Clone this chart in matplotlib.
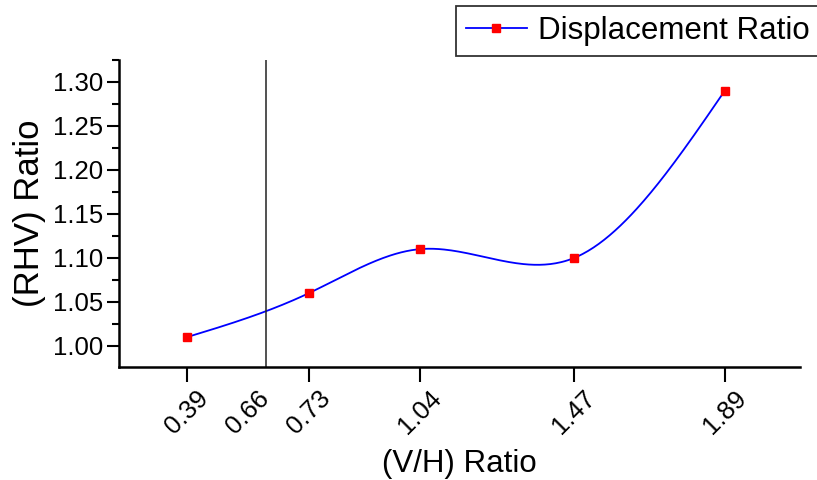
import numpy as np
import matplotlib
matplotlib.use('Agg')
import matplotlib.pyplot as plt
from matplotlib.ticker import MultipleLocator, FormatStrFormatter
from matplotlib.lines import Line2D

# data
vh_ratio = [0.39, 0.73, 1.04, 1.47, 1.89]
rhv_ratio = [1.01, 1.06, 1.11, 1.10, 1.29]
tick_pos = [0.39, 0.56, 0.73, 1.04, 1.47, 1.89]
tick_labels = ['0.39', '0.66', '0.73', '1.04', '1.47', '1.89']
vline_x = 0.61


def natural_spline(x, y, xs):
    x = np.asarray(x, float)
    y = np.asarray(y, float)
    n = len(x)
    h = np.diff(x)
    A = np.zeros((n, n))
    b = np.zeros(n)
    A[0, 0] = A[-1, -1] = 1
    for i in range(1, n - 1):
        A[i, i - 1] = h[i - 1]
        A[i, i] = 2 * (h[i - 1] + h[i])
        A[i, i + 1] = h[i]
        b[i] = 3 * ((y[i + 1] - y[i]) / h[i] - (y[i] - y[i - 1]) / h[i - 1])
    c = np.linalg.solve(A, b)
    out = np.empty_like(xs)
    for k, xv in enumerate(xs):
        i = min(max(np.searchsorted(x, xv) - 1, 0), n - 2)
        bi = (y[i + 1] - y[i]) / h[i] - h[i] * (2 * c[i] + c[i + 1]) / 3
        di = (c[i + 1] - c[i]) / (3 * h[i])
        dx = xv - x[i]
        out[k] = y[i] + bi * dx + c[i] * dx ** 2 + di * dx ** 3
    return out


plt.rcParams['font.family'] = ['Liberation Sans', 'DejaVu Sans']

fig = plt.figure(figsize=(8.17, 4.8), dpi=100)
ax = fig.add_axes([119 / 817, 1 - 367 / 480, (800 - 119) / 817, (367 - 60) / 480])

xs = np.linspace(vh_ratio[0], vh_ratio[-1], 300)
ys = natural_spline(vh_ratio, rhv_ratio, xs)
ax.plot(xs, ys, color='blue', lw=1.3)
ax.plot(vh_ratio, rhv_ratio, 's', color='red', ms=6, mec='red')

ax.axvline(vline_x, color='#222222', lw=1.1)

ax.set_xlim(0.2, 2.1)
ax.set_ylim(0.976, 1.325)

ax.set_xticks(tick_pos)
ax.set_xticklabels(tick_labels, rotation=45, ha='center')
ax.yaxis.set_major_locator(MultipleLocator(0.05))
ax.yaxis.set_minor_locator(MultipleLocator(0.025))
ax.yaxis.set_major_formatter(FormatStrFormatter('%.2f'))

ax.tick_params(axis='both', labelsize=18.5, width=1.5, direction='out')
ax.tick_params(axis='x', length=11, pad=3)
ax.tick_params(axis='y', length=8.5, pad=3)
ax.tick_params(axis='y', which='minor', width=1.5, length=5)
# the 0.66 label has no tick mark
ax.xaxis.get_major_ticks()[1].tick1line.set_visible(False)

for s in ['top', 'right']:
    ax.spines[s].set_visible(False)
for s in ['left', 'bottom']:
    ax.spines[s].set_linewidth(1.8)

ax.set_xlabel('(V/H) Ratio', fontsize=22.5, labelpad=7)
ax.set_ylabel('(RHV) Ratio', fontsize=25, labelpad=5)

handle = Line2D([], [], color='blue', lw=1.3, marker='s', mfc='red', mec='red', ms=6)
leg = fig.legend([handle], ['Displacement Ratio'], loc='upper right',
                 bbox_to_anchor=(820 / 817, 1 - 6 / 480), borderaxespad=0,
                 fontsize=22.5, fancybox=False, edgecolor='#333333', framealpha=1,
                 handlelength=1.95, borderpad=0.315, handletextpad=0.37)
leg.get_frame().set_linewidth(1.3)

fig.savefig('out.png', dpi=100)
